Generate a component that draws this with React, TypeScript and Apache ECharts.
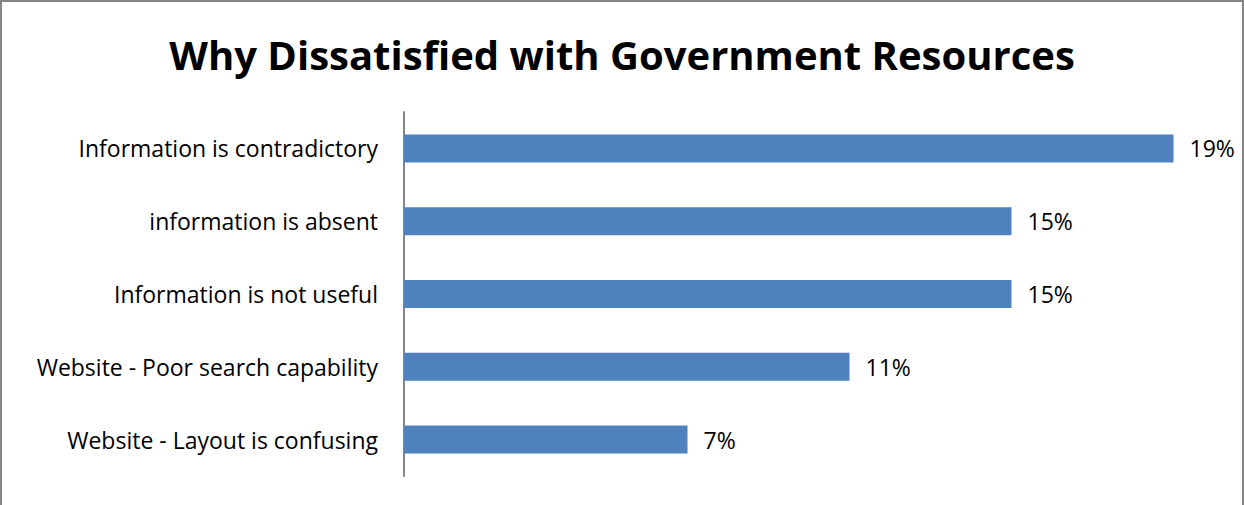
import React, { useEffect, useRef } from "react";
import * as echarts from "echarts";

const titleText = "Why Dissatisfied with Government Resources";
const categories = [
  "Information is contradictory",
  "information is absent",
  "Information is not useful",
  "Website - Poor search capability",
  "Website - Layout is confusing",
];
const values = [19, 15, 15, 11, 7];

const FONT = "'Open Sans', sans-serif";

export default function App() {
  const ref = useRef<HTMLDivElement>(null);
  useEffect(() => {
    document.body.style.margin = "0";
    const chart = echarts.init(ref.current!, null, { renderer: "svg" });
    chart.setOption({
      animation: false,
      backgroundColor: "#ffffff",
      title: {
        text: titleText,
        left: "center",
        top: 29,
        textStyle: { fontFamily: FONT, fontWeight: "bold", fontSize: 40, color: "#000" },
      },
      graphic: [
        {
          type: "rect",
          shape: { x: 1, y: 1, width: 1242, height: 520 },
          style: { fill: "none", stroke: "#868686", lineWidth: 2 },
          silent: true,
        },
      ],
      grid: { left: 404, top: 112, width: 810, height: 364, containLabel: false },
      xAxis: {
        type: "value",
        min: 0,
        max: 20,
        show: false,
        splitLine: { show: false },
      },
      yAxis: {
        type: "category",
        data: categories,
        inverse: true,
        axisLine: { show: true, lineStyle: { color: "#868686", width: 2 } },
        axisTick: { show: false },
        axisLabel: {
          margin: 26,
          fontFamily: FONT,
          fontSize: 23,
          color: "#000",
        },
      },
      series: [
        {
          type: "bar",
          data: values,
          barWidth: 28,
          itemStyle: { color: "#4F81BD" },
          label: {
            show: true,
            position: "right",
            distance: 16,
            formatter: "{c}%",
            fontFamily: FONT,
            fontSize: 23,
            color: "#000",
          },
        },
      ],
    });
    return () => chart.dispose();
  }, []);
  return <div ref={ref} style={{ width: 1244, height: 505 }} />;
}
